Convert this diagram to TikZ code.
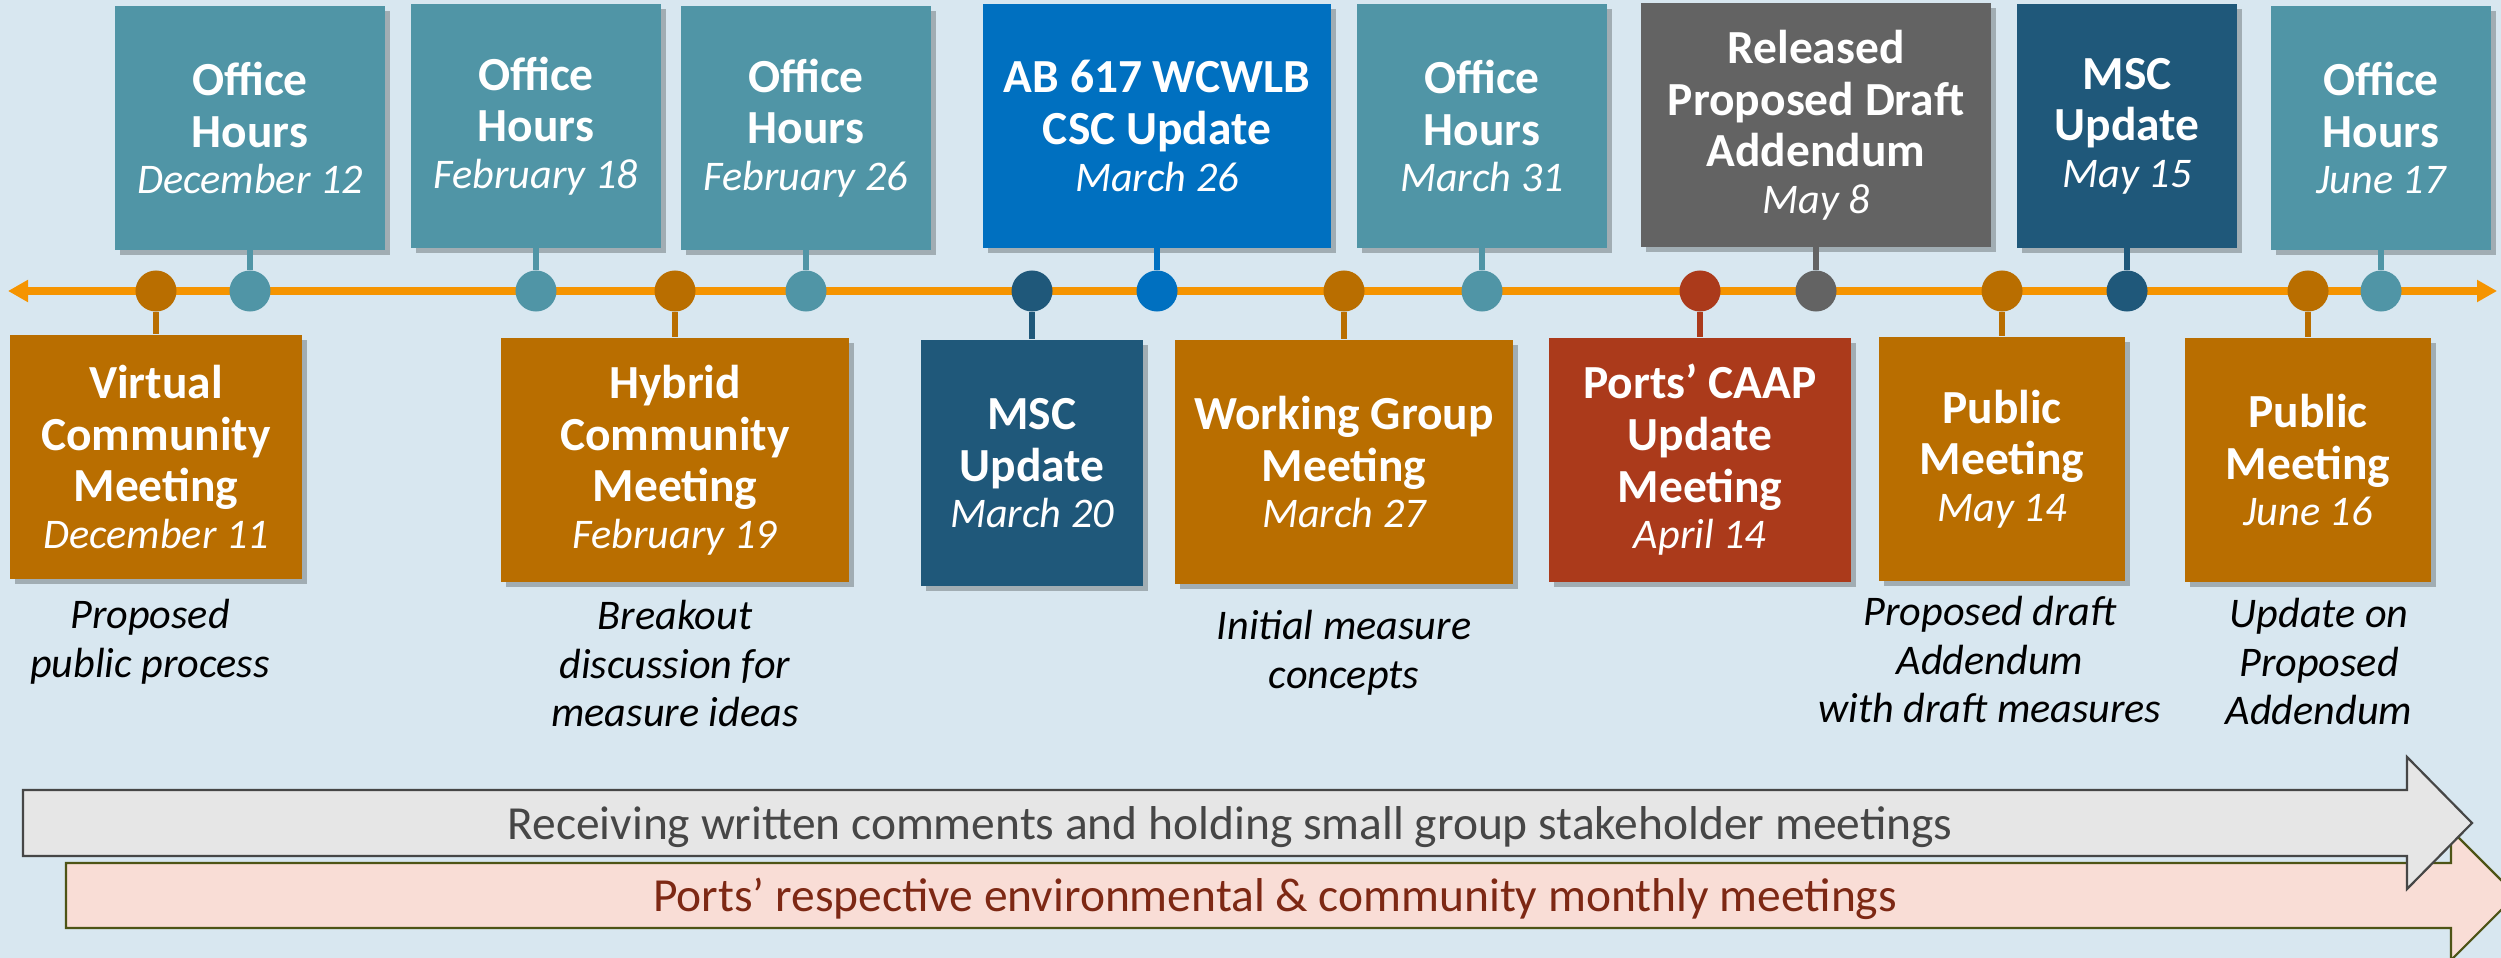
\documentclass[tikz,border=0pt]{standalone}
\usepackage{fontspec}
\setmainfont{Carlito}
\usetikzlibrary{arrows.meta,positioning,shadows}

\definecolor{bgblue}{RGB}{216,231,240}
\definecolor{lineorange}{RGB}{245,148,0}
\definecolor{ohteal}{RGB}{80,149,166}
\definecolor{cscblue}{RGB}{0,112,192}
\definecolor{draftgray}{RGB}{99,99,99}
\definecolor{mscnavy}{RGB}{31,88,122}
\definecolor{mtgbrown}{RGB}{185,110,0}
\definecolor{portred}{RGB}{171,58,27}
\definecolor{bargray}{RGB}{230,230,230}
\definecolor{baredge}{RGB}{70,70,70}
\definecolor{barpink}{RGB}{249,221,214}
\definecolor{pinkedge}{RGB}{78,84,22}
\definecolor{pinktext}{RGB}{125,40,20}

\newcommand{\when}[1]{\\[-1.5pt]{\mdseries\itshape\fontsize{12}{13}\selectfont #1}}

\begin{document}
\begin{tikzpicture}
[x=0.01cm,y=-0.01cm,>={Triangle[length=0.2cm,width=0.21cm]},
 evbox/.style={rectangle,fill=#1,text=white,align=center,inner sep=0pt,minimum height=2.43cm,
   font=\bfseries\fontsize{13.5}{14.7}\selectfont,
   drop shadow={shadow xshift=0.05cm,shadow yshift=-0.05cm,opacity=0.25,fill=black}},
 knob/.style={circle,fill=#1,inner sep=0pt,minimum size=0.41cm},
 stalk/.style={draw=#1,line width=0.068cm},
 remark/.style={align=center,inner sep=0pt,font=\itshape\fontsize{12}{13.8}\selectfont},
 bartext/.style={anchor=base,inner sep=0pt,font=\fontsize{13.5}{16}\selectfont}]
\path[use as bounding box,fill=bgblue] (0,0) rectangle (2501,958);
\clip (0,0) rectangle (2501,958);

\coordinate (tlw) at (8,291);
\coordinate (tle) at (2497,291);
\draw[<->,lineorange,line width=0.07cm] (tlw) -- (tle);

\node[evbox=ohteal,minimum width=2.7cm] (oh1) at (250,128) {Office\\Hours\when{December 12}};
\node[evbox=ohteal,minimum width=2.5cm] (oh2) at (536,126) {Office\\Hours\when{February 18}};
\node[evbox=ohteal,minimum width=2.5cm] (oh3) at (806,128) {Office\\Hours\when{February 26}};
\node[evbox=cscblue,minimum width=3.48cm] (csc) at (1157,126) {AB 617 WCWLB\\CSC Update\when{March 26}};
\node[evbox=ohteal,minimum width=2.5cm] (oh4) at (1482,126) {Office\\Hours\when{March 31}};
\node[evbox=draftgray,minimum width=3.5cm] (draft) at (1816,125) {Released\\Proposed Draft\\Addendum\when{May 8}};
\node[evbox=mscnavy,minimum width=2.2cm] (msc2) at (2127,126) {MSC\\Update\when{May 15}};
\node[evbox=ohteal,minimum width=2.2cm] (oh5) at (2381,128) {Office\\Hours\when{June 17}};

\node[evbox=mtgbrown,minimum width=2.92cm,minimum height=2.44cm] (vcm) at (156,457) {Virtual\\Community\\Meeting\when{December 11}};
\node[evbox=mtgbrown,minimum width=3.47cm,minimum height=2.44cm] (hcm) at (675,460) {Hybrid\\Community\\Meeting\when{February 19}};
\node[evbox=mscnavy,minimum width=2.22cm,minimum height=2.46cm] (msc1) at (1032,463) {MSC\\Update\when{March 20}};
\node[evbox=mtgbrown,minimum width=3.38cm,minimum height=2.44cm] (wgm) at (1344,462) {Working Group\\Meeting\when{March 27}};
\node[evbox=portred,minimum width=3.01cm,minimum height=2.44cm] (caap) at (1700,460) {Ports’ CAAP\\Update\\Meeting\when{April 14}};
\node[evbox=mtgbrown,minimum width=2.46cm,minimum height=2.44cm] (pm1) at (2002,459) {Public\\Meeting\when{May 14}};
\node[evbox=mtgbrown,minimum width=2.46cm,minimum height=2.44cm] (pm2) at (2308,460) {Public\\Meeting\when{June 16}};

\node[knob=ohteal] (oh1dot) at (oh1 |- tlw) {};
\node[knob=ohteal] (oh2dot) at (oh2 |- tlw) {};
\node[knob=ohteal] (oh3dot) at (oh3 |- tlw) {};
\node[knob=cscblue] (cscdot) at (csc |- tlw) {};
\node[knob=ohteal] (oh4dot) at (oh4 |- tlw) {};
\node[knob=draftgray] (draftdot) at (draft |- tlw) {};
\node[knob=mscnavy] (msc2dot) at (msc2 |- tlw) {};
\node[knob=ohteal] (oh5dot) at (oh5 |- tlw) {};
\node[knob=mtgbrown] (vcmdot) at (vcm |- tlw) {};
\node[knob=mtgbrown] (hcmdot) at (hcm |- tlw) {};
\node[knob=mscnavy] (msc1dot) at (msc1 |- tlw) {};
\node[knob=mtgbrown] (wgmdot) at (wgm |- tlw) {};
\node[knob=portred] (caapdot) at (caap |- tlw) {};
\node[knob=mtgbrown] (pm1dot) at (pm1 |- tlw) {};
\node[knob=mtgbrown] (pm2dot) at (pm2 |- tlw) {};

\draw[stalk=ohteal] (oh1dot) -- (oh1.south);
\draw[stalk=ohteal] (oh2dot) -- (oh2.south);
\draw[stalk=ohteal] (oh3dot) -- (oh3.south);
\draw[stalk=cscblue] (cscdot) -- (csc.south);
\draw[stalk=ohteal] (oh4dot) -- (oh4.south);
\draw[stalk=draftgray] (draftdot) -- (draft.south);
\draw[stalk=mscnavy] (msc2dot) -- (msc2.south);
\draw[stalk=ohteal] (oh5dot) -- (oh5.south);
\draw[stalk=mtgbrown] (vcmdot) -- (vcm.north);
\draw[stalk=mtgbrown] (hcmdot) -- (hcm.north);
\draw[stalk=mscnavy] (msc1dot) -- (msc1.north);
\draw[stalk=mtgbrown] (wgmdot) -- (wgm.north);
\draw[stalk=portred] (caapdot) -- (caap.north);
\draw[stalk=mtgbrown] (pm1dot) -- (pm1.north);
\draw[stalk=mtgbrown] (pm2dot) -- (pm2.north);

\node[remark] (vcmnote) [below=0.19cm of vcm,xshift=-0.06cm] {Proposed\\public process};
\node[remark] (hcmnote) [below=0.17cm of hcm] {Breakout\\discussion for\\measure ideas};
\node[remark] (wgmnote) [below=0.25cm of wgm] {Initial measure\\concepts};
\node[remark] (pm1note) [below=0.14cm of pm1,xshift=-0.12cm] {Proposed draft\\Addendum\\with draft measures};
\node[remark] (pm2note) [below=0.15cm of pm2,xshift=0.11cm] {Update on\\Proposed\\Addendum};

\draw[fill=barpink,draw=pinkedge,line width=0.022cm] (66,863) -- (2451,863) -- (2451,830) -- (2516,895) -- (2451,960) -- (2451,928) -- (66,928) -- cycle;
\node[bartext,text=pinktext] (ports) at (1275,911) {Ports’ respective environmental \& community monthly meetings};
\draw[fill=bargray,draw=baredge,line width=0.022cm] (23,790) -- (2407,790) -- (2407,757) -- (2472,823) -- (2407,889) -- (2407,856) -- (23,856) -- cycle;
\node[bartext,text=baredge] (comments) at (1230,839) {Receiving written comments and holding small group stakeholder meetings};
\end{tikzpicture}
\end{document}
